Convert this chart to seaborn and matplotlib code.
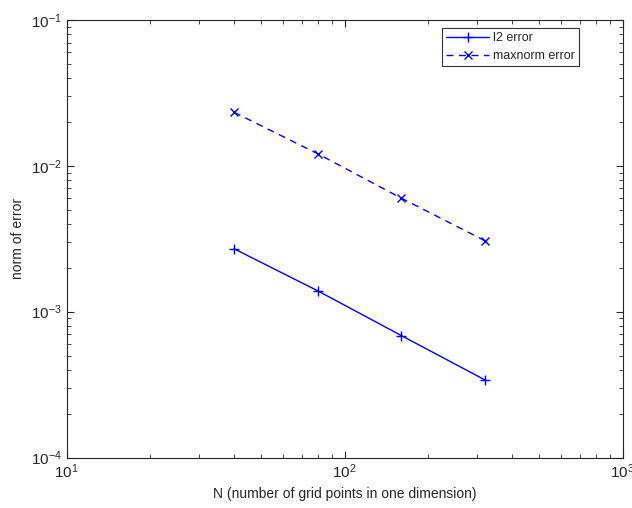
import numpy as np
import pandas as pd
import matplotlib
matplotlib.use("Agg")
import matplotlib.pyplot as plt
import seaborn as sns

# data
N = [40, 80, 160, 320]
l2_err = [2.70e-3, 1.39e-3, 6.85e-4, 3.40e-4]
max_err = [2.33e-2, 1.21e-2, 6.0e-3, 3.06e-3]
labels = ['l2 error', 'maxnorm error']

sns.set_style("ticks")
plt.rcParams['font.family'] = ['Liberation Sans', 'DejaVu Sans']
plt.rcParams['mathtext.fontset'] = 'custom'
plt.rcParams['mathtext.rm'] = 'Liberation Sans'

df = pd.DataFrame({
    'N': N * 2,
    'err': l2_err + max_err,
    'kind': [labels[0]] * len(N) + [labels[1]] * len(N),
})

fig = plt.figure(figsize=(6.32, 5.08), dpi=100)
ax = fig.add_axes([0.1055, 0.0994, 0.8797, 0.8612])

sns.lineplot(data=df, x='N', y='err', style='kind',
             markers={labels[0]: '+', labels[1]: 'x'},
             dashes={labels[0]: '', labels[1]: (5, 4)},
             color='#0000ff', linewidth=1, markersize=7,
             markeredgewidth=1, markeredgecolor='#0000ff',
             ax=ax, legend=False)

lines = ax.get_lines()
lines[1].set_markersize(5.5)

ax.set_xscale('log')
ax.set_yscale('log')
ax.set_xlim(10, 1000)
ax.set_ylim(1e-4, 1e-1)
ax.set_xlabel('N (number of grid points in one dimension)', fontsize=10)
ax.set_ylabel('norm of error', fontsize=10)
ax.tick_params(which='both', direction='in', top=True, right=True, labelsize=11)
ax.tick_params(which='major', length=5)
ax.tick_params(which='minor', length=3)
for s in ax.spines.values():
    s.set_linewidth(0.8)
    s.set_visible(True)

leg = ax.legend(lines[:2], labels, loc='upper left', bbox_to_anchor=(0.675, 0.982),
                fontsize=9, frameon=True, fancybox=False, edgecolor='black',
                handlelength=3.4, borderpad=0.35, borderaxespad=0,
                labelspacing=0.45, handletextpad=0.35)
leg.get_frame().set_linewidth(0.8)

fig.savefig('out.png', dpi=100)
